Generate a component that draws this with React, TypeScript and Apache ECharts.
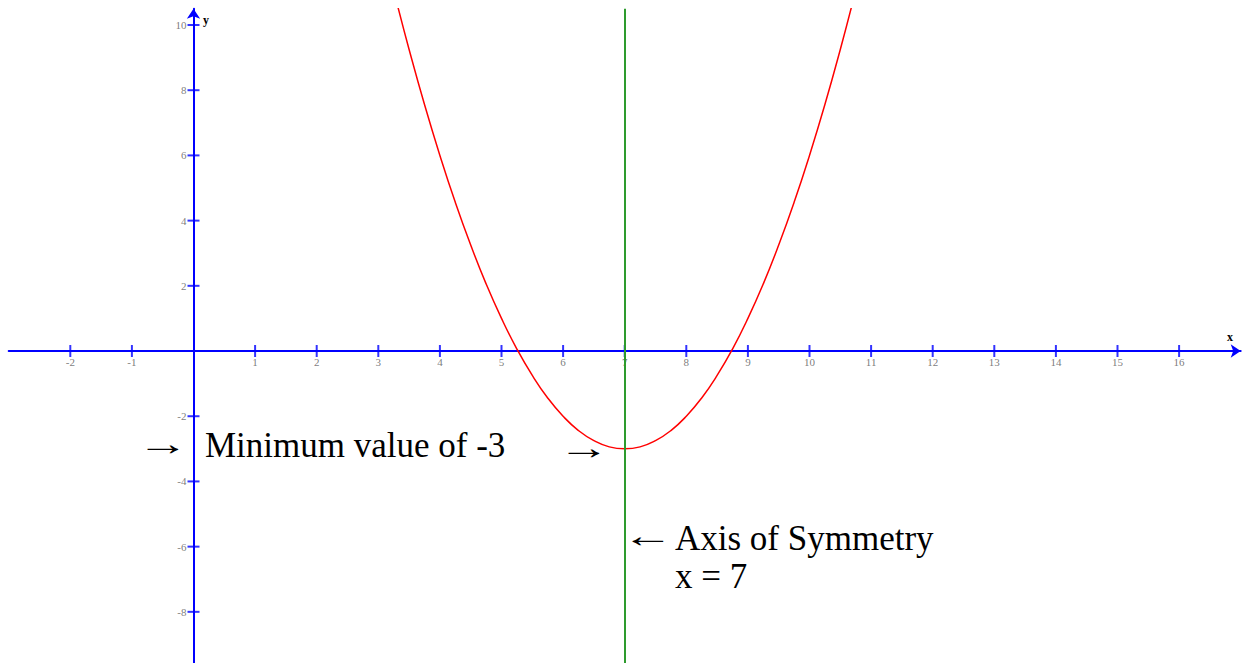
import React, { useEffect, useRef } from "react";
import * as echarts from "echarts";

// Tick values on each axis (origin has no tick/label)
const xTickValues = [-2, -1, 1, 2, 3, 4, 5, 6, 7, 8, 9, 10, 11, 12, 13, 14, 15, 16];
const yTickValues = [-8, -6, -4, -2, 2, 4, 6, 8, 10];

// Parabola points (vertex at (7, -3))
const curveX = [3.3, 3.5, 3.75, 4, 4.25, 4.5, 4.75, 5, 5.25, 5.5, 5.75, 6, 6.25, 6.5, 6.75, 7,
  7.25, 7.5, 7.75, 8, 8.25, 8.5, 8.75, 9, 9.25, 9.5, 9.75, 10, 10.25, 10.5, 10.7];
const curveY = [10.69, 9.25, 7.56, 6, 4.56, 3.25, 2.06, 1, 0.06, -0.75, -1.44, -2, -2.44, -2.75, -2.94, -3,
  -2.94, -2.75, -2.44, -2, -1.44, -0.75, 0.06, 1, 2.06, 3.25, 4.56, 6, 7.56, 9.25, 10.69];

const symmetryX = 7;

const SERIF = "'Liberation Serif', 'Times New Roman', serif";

export default function App() {
  const ref = useRef<HTMLDivElement>(null);
  useEffect(() => {
    if (!ref.current) return;
    const chart = echarts.init(ref.current, null, { renderer: "svg" });
    const blue = "#0000ff";
    const tickLabelStyle = { fontSize: 11, fontFamily: SERIF, color: "#5a5a5a" };
    chart.setOption({
      animation: false,
      backgroundColor: "#ffffff",
      grid: {
        left: 8.7,
        right: 2.3,
        top: 8.7,
        bottom: -1,
        containLabel: false,
        outerBoundsMode: "none",
      },
      xAxis: {
        type: "value",
        min: -3,
        max: 17,
        axisLine: {
          show: true,
          onZero: true,
          symbol: ["none", "arrow"],
          symbolSize: [10, 10],
          lineStyle: { color: blue, width: 2 },
        },
        axisTick: { show: false },
        splitLine: { show: false },
        axisLabel: { show: false },
      },
      yAxis: {
        type: "value",
        min: -9.6,
        max: 10.5,
        axisLine: {
          show: true,
          onZero: true,
          symbol: ["none", "arrow"],
          symbolSize: [10, 10],
          lineStyle: { color: blue, width: 2 },
        },
        axisTick: { show: false },
        splitLine: { show: false },
        axisLabel: { show: false },
      },
      series: [
        {
          type: "line",
          data: curveX.map((x, i) => [x, curveY[i]]),
          smooth: true,
          showSymbol: false,
          clip: true,
          lineStyle: { color: "#ff0000", width: 1.5 },
          silent: true,
          z: 3,
          markLine: {
            silent: true,
            symbol: ["none", "none"],
            label: { show: false },
            lineStyle: { color: "#2e9b2e", width: 2, type: "solid" },
            data: [{ xAxis: symmetryX }],
          },
        },
        {
          type: "scatter",
          data: xTickValues.map((v) => [v, 0]),
          symbol: "rect",
          symbolSize: [2, 12],
          itemStyle: { color: blue },
          silent: true,
          z: 4,
          label: {
            show: true,
            position: "inside",
            offset: [0, 11],
            formatter: (p: any) => String(p.value[0]),
            ...tickLabelStyle,
          },
        },
        {
          type: "scatter",
          data: yTickValues.map((v) => [0, v]),
          symbol: "rect",
          symbolSize: [12, 2],
          itemStyle: { color: blue },
          silent: true,
          z: 4,
          label: {
            show: true,
            position: "left",
            distance: 1,
            formatter: (p: any) => String(p.value[1]),
            ...tickLabelStyle,
          },
        },
      ],
      graphic: [
        { type: "text", left: 1227, top: 331, style: { text: "x", font: `bold 12px ${SERIF}`, fill: "#000" } },
        { type: "text", left: 203, top: 14, style: { text: "y", font: `bold 12px ${SERIF}`, fill: "#000" } },
        { type: "text", x: 137, y: 426, scaleX: 1.52, style: { text: "→", font: `34px ${SERIF}`, fill: "#000" } },
        { type: "text", left: 205, top: 428, style: { text: "Minimum value of -3", font: `35px ${SERIF}`, fill: "#000" } },
        { type: "text", x: 558, y: 430, scaleX: 1.52, style: { text: "→", font: `34px ${SERIF}`, fill: "#000" } },
        { type: "text", x: 622, y: 518, scaleX: 1.52, style: { text: "←", font: `34px ${SERIF}`, fill: "#000" } },
        { type: "text", left: 675, top: 521, style: { text: "Axis of Symmetry", font: `35px ${SERIF}`, fill: "#000" } },
        { type: "text", left: 675, top: 559, style: { text: "x = 7", font: `35px ${SERIF}`, fill: "#000" } },
      ],
    });
    return () => chart.dispose();
  }, []);
  return (
    <div
      ref={ref}
      style={{ position: "absolute", left: 0, top: 0, width: 1243, height: 663 }}
    />
  );
}
